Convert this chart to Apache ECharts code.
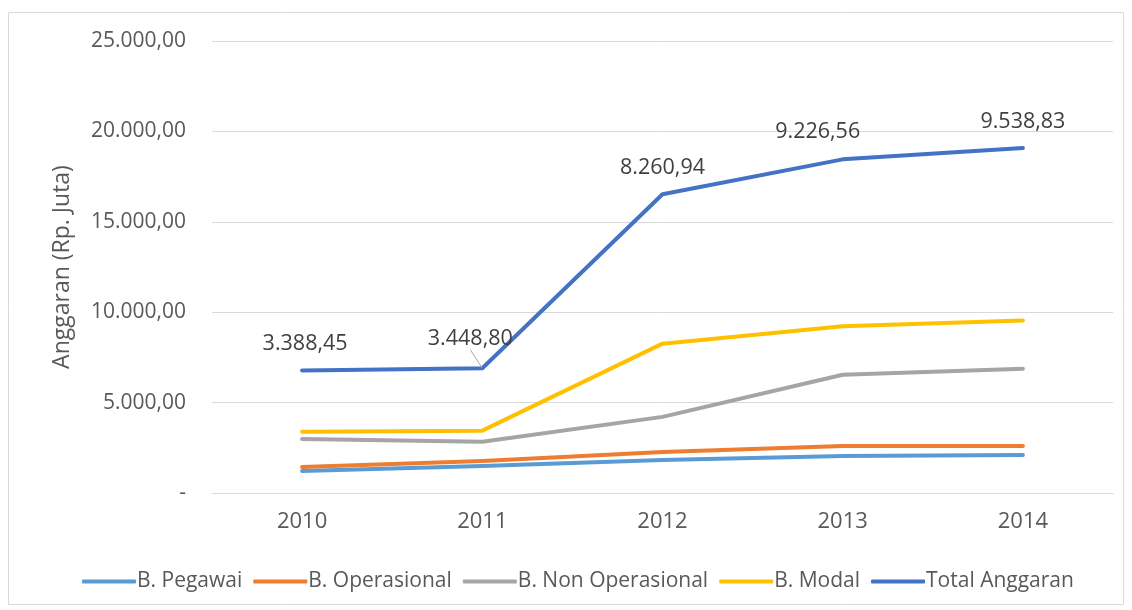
<!DOCTYPE html>
<html><head><meta charset="utf-8">
<script src="https://cdn.jsdelivr.net/npm/echarts@6/dist/echarts.min.js"></script>
<style>html,body{margin:0;padding:0;background:#fff}#c{width:1132px;height:610px}</style>
</head><body><div id="c"></div>
<script>
const years = ['2010','2011','2012','2013','2014'];
const pegawai = [1220, 1500, 1830, 2050, 2100];
const operasional = [1440, 1770, 2270, 2600, 2600];
const nonOperasional = [2990, 2830, 4210, 6540, 6870];
const modal = [3388.45, 3448.80, 8260.94, 9226.56, 9538.83];
const totalAnggaran = [6776.90, 6897.60, 16521.88, 18453.12, 19077.66];
const totalLabels = [3388.45, 3448.80, 8260.94, 9226.56, 9538.83];

function fmt(v){
  if (v === 0) return '-';
  const parts = v.toFixed(2).split('.');
  parts[0] = parts[0].replace(/\B(?=(\d{3})+(?!\d))/g, '.');
  return parts[0] + ',' + parts[1];
}
const FONT = 'Open Sans';
const chart = echarts.init(document.getElementById('c'));
function ser(name, data, color, extra){
  return Object.assign({
    name, type:'line', data, symbol:'none', smooth:false,
    lineStyle:{width:4, color, cap:'round', join:'round'},
    itemStyle:{color}
  }, extra||{});
}
const labelOffsets = [[3,0],[-12,-3],[0,0],[-25,-1],[0,0]];
const totalData = totalAnggaran.map((v, i) => ({
  value: v,
  labelLine: {show: i === 1, lineStyle:{color:'#a6a6a6', width:1}}
}));
chart.setOption({
  animation:false,
  textStyle:{fontFamily:FONT},
  graphic:[{type:'rect', shape:{x:8.5,y:12.5,width:1115,height:592}, style:{fill:'none', stroke:'#d9d9d9', lineWidth:1}, silent:true}],
  grid:{left:212, right:19, top:41, bottom:117},
  legend:{
    top:566, left:77, itemGap:11, itemWidth:54, itemHeight:4, icon:'roundRect',
    textStyle:{fontSize:21, color:'#595959', fontFamily:FONT, padding:[0,0,0,-4]},
    data:['B. Pegawai','B. Operasional','B. Non Operasional','B. Modal','Total Anggaran']
  },
  xAxis:{
    type:'category', data:years, boundaryGap:true,
    axisLine:{show:true, lineStyle:{color:'#d9d9d9'}}, axisTick:{show:false},
    axisLabel:{fontSize:22, color:'#595959', margin:18, fontFamily:FONT}
  },
  yAxis:{
    type:'value', min:0, max:25000, interval:5000,
    name:'Anggaran (Rp. Juta)', nameLocation:'middle', nameGap:138, nameRotate:90,
    nameTextStyle:{fontSize:23, color:'#595959', fontFamily:FONT},
    axisLine:{show:false}, axisTick:{show:false},
    splitLine:{lineStyle:{color:'#d9d9d9', width:1}},
    axisLabel:{fontSize:21, color:'#595959', margin:26, fontFamily:FONT, formatter:fmt}
  },
  series:[
    ser('B. Pegawai', pegawai, '#5B9BD5'),
    ser('B. Operasional', operasional, '#ED7D31'),
    ser('B. Non Operasional', nonOperasional, '#A5A5A5'),
    ser('B. Modal', modal, '#FFC000'),
    ser('Total Anggaran', totalData, '#4472C4', {
      symbol:'circle', symbolSize:1, showSymbol:true,
      label:{show:true, position:'top', distance:15, fontSize:21.5, color:'#404040', fontFamily:FONT,
        formatter:p => fmt(totalLabels[p.dataIndex])},
      labelLayout: function(p){
        const o = labelOffsets[p.dataIndex] || [0,0];
        return {dx:o[0], dy:o[1]};
      }
    })
  ]
});
</script></body></html>
